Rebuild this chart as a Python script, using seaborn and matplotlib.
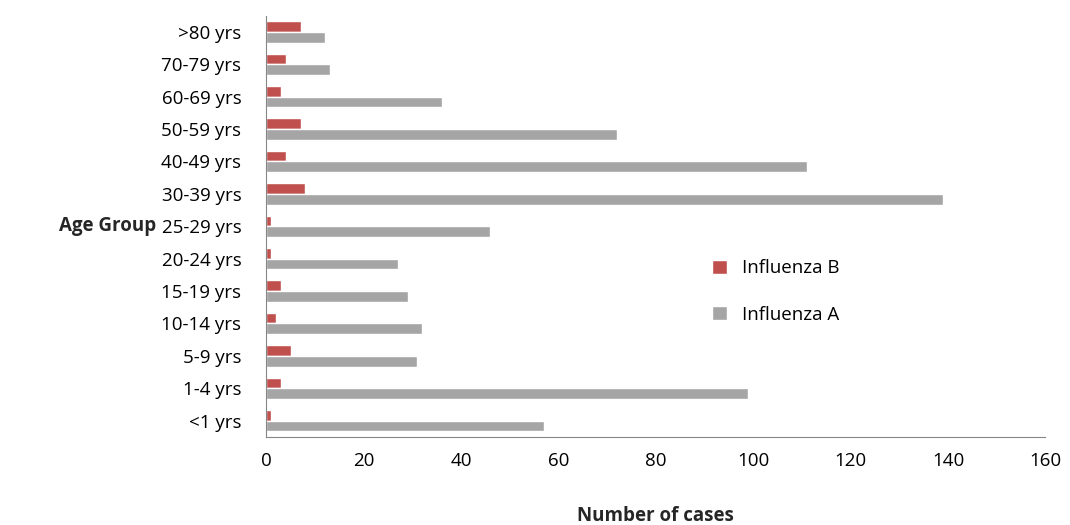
import pandas as pd
import numpy as np
import seaborn as sns
import matplotlib.pyplot as plt

# Data (top to bottom as displayed)
age_groups = [">80 yrs", "70-79 yrs", "60-69 yrs", "50-59 yrs", "40-49 yrs", "30-39 yrs",
              "25-29 yrs", "20-24 yrs", "15-19 yrs", "10-14 yrs", "5-9 yrs", "1-4 yrs", "<1 yrs"]
flu_a = [12, 13, 36, 72, 111, 139, 46, 27, 29, 32, 31, 99, 57]
flu_b = [7, 4, 3, 7, 4, 8, 1, 1, 3, 2, 5, 3, 1]

df = pd.DataFrame({
    "Age": age_groups * 2,
    "Cases": flu_b + flu_a,
    "Type": ["Influenza B"] * len(age_groups) + ["Influenza A"] * len(age_groups),
})

sns.set_style("white")
plt.rcParams["font.family"] = ["Open Sans", "DejaVu Sans"]
plt.rcParams["text.color"] = "black"

fig, ax = plt.subplots(figsize=(10.7, 5.25), dpi=100)
sns.barplot(data=df, x="Cases", y="Age", hue="Type", order=age_groups,
            hue_order=["Influenza B", "Influenza A"],
            palette=["#C0504D", "#A5A5A5"], width=0.66, saturation=1,
            orient="h", ax=ax)

ax.set_xlim(0, 160)
ax.set_xticks(range(0, 161, 20))
ax.set_ylim(len(age_groups) - 0.5, -0.5)
ax.set_yticks(np.arange(-0.5, len(age_groups), 1), minor=True)
ax.tick_params(axis="y", which="major", length=0, labelsize=13.5, pad=18, labelcolor="black")
ax.tick_params(axis="y", which="minor", length=5, direction="out", color="#868686")
ax.tick_params(axis="x", length=5, direction="out", color="#868686", labelsize=13.5,
               pad=6, labelcolor="black")
for s in ["top", "right"]:
    ax.spines[s].set_visible(False)
for s in ["left", "bottom"]:
    ax.spines[s].set_color("#868686")

ax.set_xlabel("Number of cases", fontsize=13.5, fontweight="bold", labelpad=26)
ax.set_ylabel("Age Group", fontsize=13.5, fontweight="bold", rotation=0, ha="right", va="center", labelpad=4)

ax.legend(loc="center left", bbox_to_anchor=(0.55, 0.345), frameon=False,
          fontsize=13.5, handlelength=0.8, handleheight=0.8, labelspacing=1.5)

fig.subplots_adjust(left=0.249, right=0.977, top=0.97, bottom=0.168)
fig.savefig("out.png")
